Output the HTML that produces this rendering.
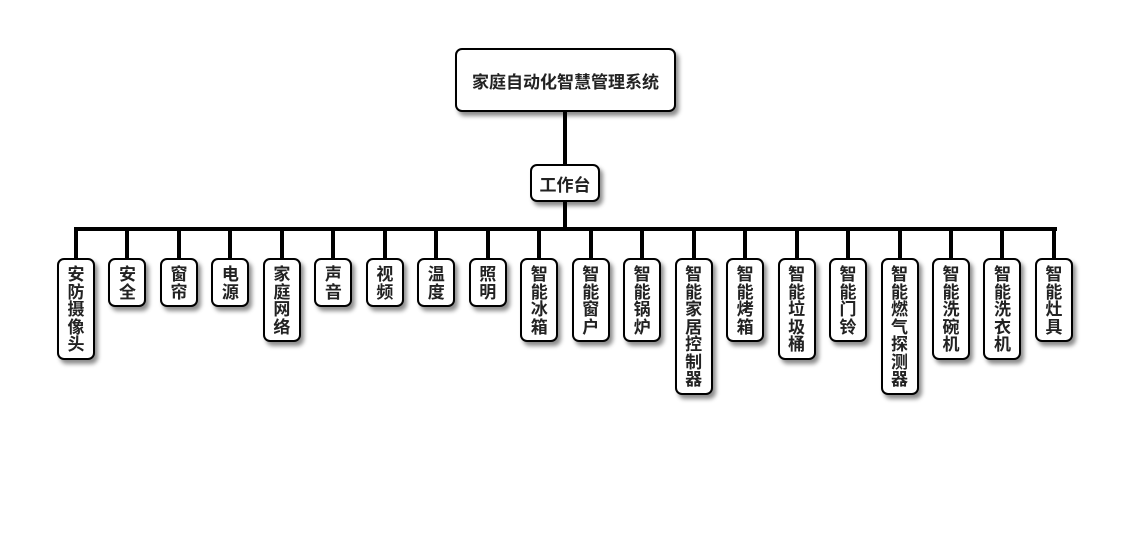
<!DOCTYPE html>
<html><head><meta charset="utf-8"><style>
body{margin:0;width:1130px;height:560px;background:#fff;position:relative;overflow:hidden;font-family:"Liberation Sans","Noto Sans CJK SC",sans-serif;}
.b{position:absolute;box-sizing:border-box;border:2px solid #000;border-radius:7px;background:#fff;box-shadow:3px 4px 4px rgba(0,0,0,.45);font-weight:bold;color:#222;display:flex;align-items:center;justify-content:center;text-align:center}
.c{width:38px;top:258px;font-size:17px;line-height:17.5px;padding-top:6px;align-items:flex-start}
.l{position:absolute;background:#000}
</style></head><body>
<div class="l" style="left:563px;top:110px;width:4px;height:56px"></div>
<div class="l" style="left:563px;top:200px;width:4px;height:30px"></div>
<div class="l" style="left:74px;top:227px;width:983px;height:4px"></div>
<div class="b" style="left:455px;top:48px;width:221px;height:64px;font-size:17px">家庭自动化智慧管理系统</div>
<div class="b" style="left:530px;top:164px;width:70px;height:38px;font-size:17px">工作台</div>
<div id="k"></div>
<script>
var n=["安防摄像头","安全","窗帘","电源","家庭网络","声音","视频","温度","照明","智能冰箱","智能窗户","智能锅炉","智能家居控制器","智能烤箱","智能垃圾桶","智能门铃","智能燃气探测器","智能洗碗机","智能洗衣机","智能灶具"];
var h="";
for(var i=0;i<n.length;i++){var cx=76+i*51.47;var s=n[i];
h+='<div class="l" style="left:'+(cx-2)+'px;top:229px;width:4px;height:30px"></div>';
h+='<div class="b c" style="left:'+(cx-19)+'px;height:'+(14+17.5*s.length)+'px">'+s.split("").join("<br>")+'</div>';}
document.getElementById("k").innerHTML=h;
</script>
</body></html>
